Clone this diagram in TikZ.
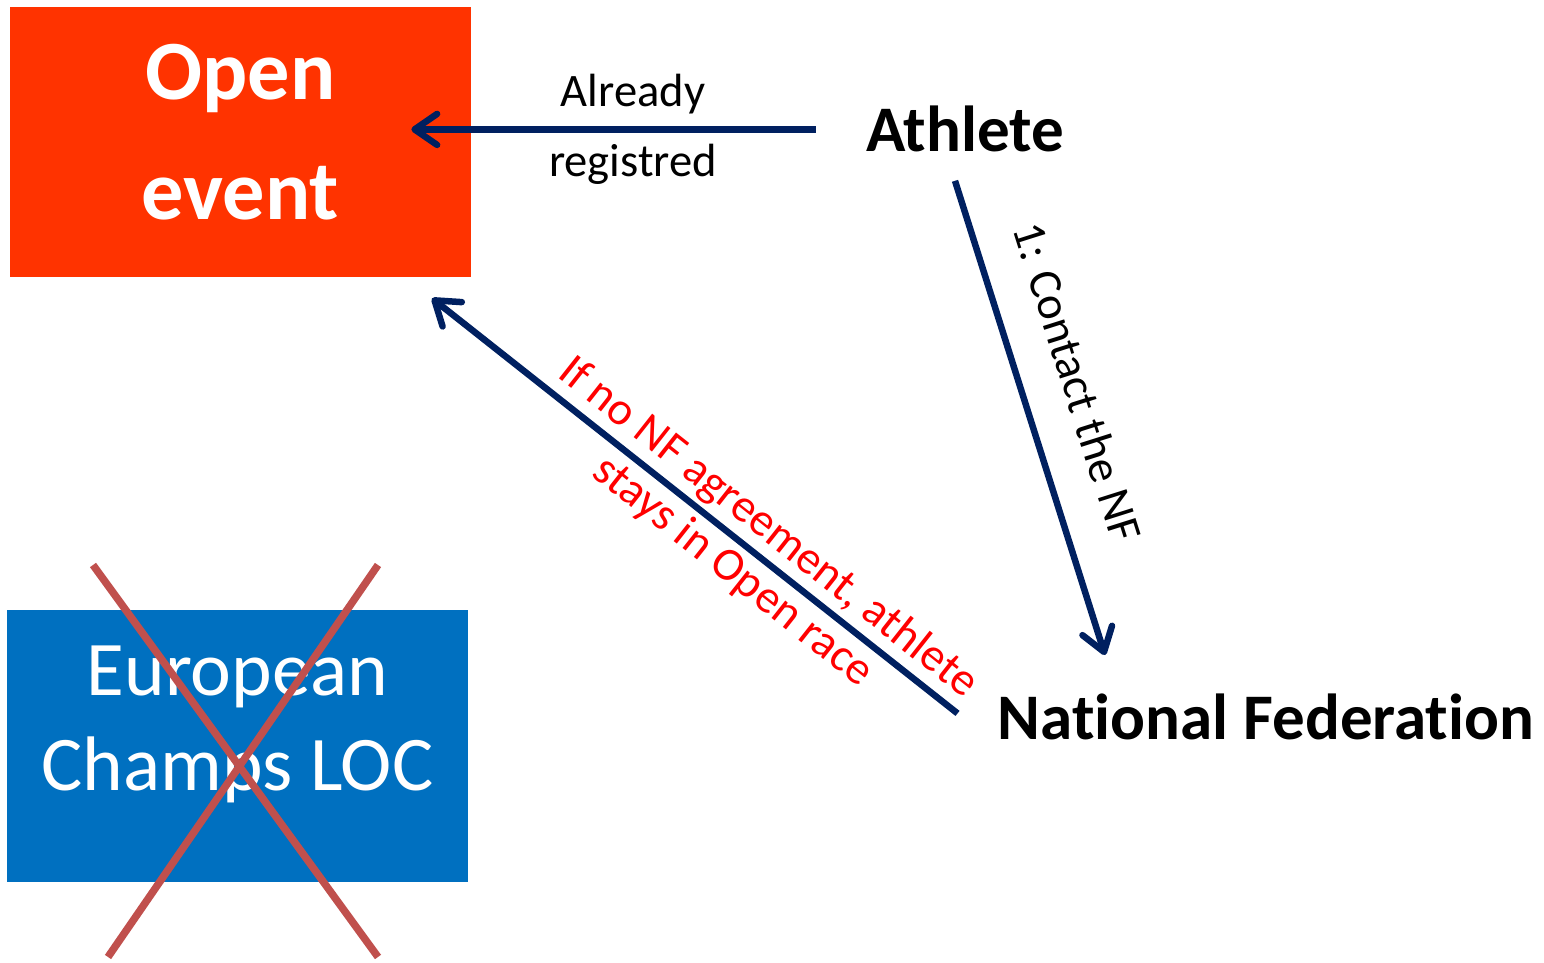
\documentclass[tikz,border=0pt]{standalone}
\usepackage{fontspec}
\setmainfont{Carlito}[Ligatures={NoCommon,NoRare,NoContextual}]
\usetikzlibrary{arrows.meta}

\definecolor{navy}{HTML}{002060}
\definecolor{openred}{HTML}{FF3300}
\definecolor{locblue}{HTML}{0070C0}
\definecolor{crossred}{HTML}{C0504D}

\begin{document}
\begin{tikzpicture}[box/.style={rectangle,minimum width=9.22cm,inner sep=0,text=white,align=center},
  who/.style={inner sep=0,font=\bfseries\fontsize{37}{44}\selectfont},
  lbl/.style={text=black,font=\fontsize{26.5}{32}\selectfont},
  arr/.style={-{Straight Barb[length=0.45cm,width=0.62cm,round]},line width=0.13cm,navy}]
\useasboundingbox (0,0) rectangle (30.88,19.26);

\node [box,fill=openred,minimum height=5.4cm] (open) at (4.81,16.42) {};
\node [text=white,align=center,font=\bfseries\fontsize{48}{68.6}\selectfont] (opentxt) at (4.81,16.62) {Open\\event};
\node [box,fill=locblue,minimum height=5.44cm] (loc) at (4.75,4.34) {};
\node [text=white,align=center,font=\fontsize{44}{54}\selectfont] (loctxt) at (4.75,4.78) {European\\Champs LOC};
\node [who,anchor=base] (athlete) at (19.3,16.22) {Athlete};
\node [who,anchor=base] (nf) at (25.32,4.46) {National Federation};

% the LOC is crossed out
\draw [crossred,line width=0.15cm] (1.86,7.96) -- (7.56,0.12);
\draw [crossred,line width=0.15cm] (7.56,7.96) -- (2.16,0.12);

\draw [arr,shorten <=1.0cm,shorten >=-1.2cm] (athlete.west) -- (athlete.west -| open.east)
  node [lbl,pos=0.59,above=0.12cm] {Already}
  node [lbl,pos=0.59,below=0.12cm] {registred};
\draw [arr] ([xshift=-0.2cm,yshift=-0.56cm]athlete.south) -- ([xshift=-3.22cm,yshift=0.78cm]nf.north)
  node [lbl,pos=0.46,sloped,above=0.62cm] {1: Contact the NF};
\draw [arr] ([xshift=-0.8cm,yshift=0.08cm]nf.west) -- ([xshift=3.83cm,yshift=-0.42cm]open.south)
  node [lbl,pos=0.394,sloped,text=red,align=center] {If no NF agreement, athlete\\stays in Open race};
\end{tikzpicture}
\end{document}
